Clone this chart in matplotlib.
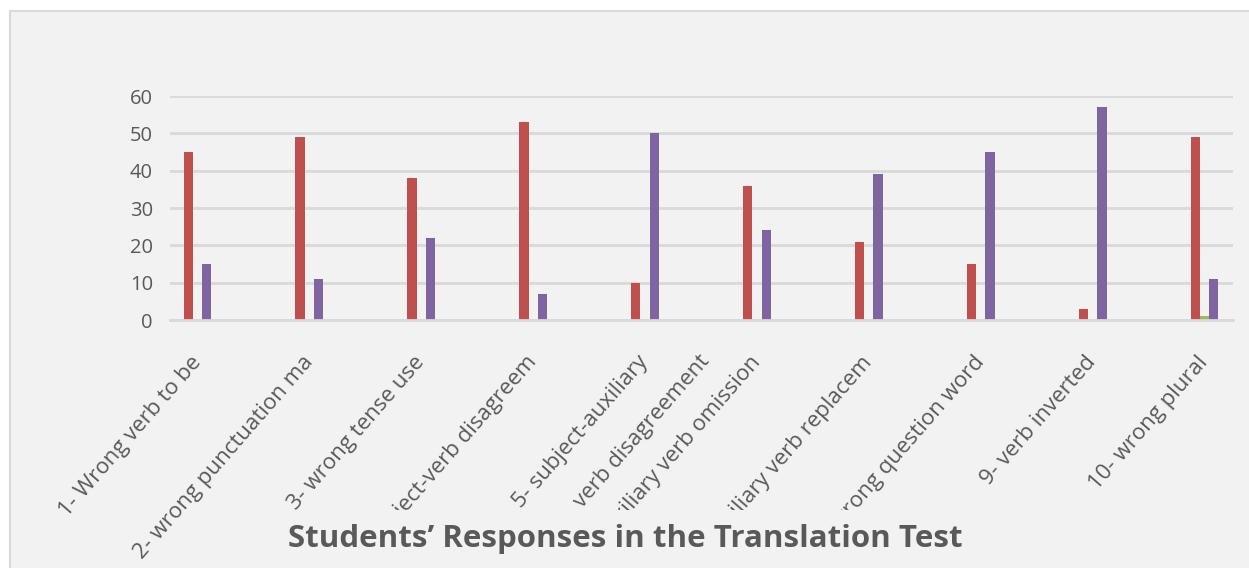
import numpy as np
import matplotlib
matplotlib.use('Agg')
import matplotlib.pyplot as plt
from matplotlib.patches import Rectangle
from matplotlib.transforms import ScaledTranslation

# Data
Categories = ['1- Wrong verb to be', '2- wrong punctuation ma', '3- wrong tense use',
              '4- subject-verb disagreem', '5- subject-auxiliary', '6- auxiliary verb omission',
              '7- auxiliary verb replacem', '8- wrong question word', '9- verb inverted',
              '10- wrong plural']
Red_Values = [45, 49, 38, 53, 10, 36, 21, 15, 3, 49]
Green_Values = [0, 0, 0, 0, 0, 0, 0, 0, 0, 1]
Purple_Values = [15, 11, 22, 7, 50, 24, 39, 45, 57, 11]
Y_Ticks = [0, 10, 20, 30, 40, 50, 60]
Title = 'Students\u2019 Responses in the Translation Test'

Bg = '#F2F2F2'
Grid = '#D9D9D9'
Text_Color = '#595959'

plt.rcParams['font.family'] = ['Open Sans', 'DejaVu Sans']

fig = plt.figure(figsize=(12.49, 5.68), dpi=100)
fig.patch.set_facecolor('white')

# chart area background with thin border (runs off right and bottom edges)
fig.add_artist(Rectangle((10 / 1249, -0.1), 1.2, 1.1 - 11 / 568, transform=fig.transFigure,
                         facecolor=Bg, edgecolor=Grid, linewidth=1.5, zorder=-1))

ax = fig.add_axes([169.5 / 1249, 1 - 320 / 568, 1063 / 1249, 224 / 568])
ax.set_facecolor('none')

X = np.arange(len(Categories))
Width = 0.083
ax.bar(X - Width, Red_Values, Width, color='#C0504D', zorder=2)
ax.bar(X, Green_Values, Width, color='#9BBB59', zorder=2)
ax.bar(X + Width, Purple_Values, Width, color='#8064A2', zorder=2)

ax.set_xlim(-0.25, 9.25)
ax.set_ylim(0, 60)
ax.set_yticks(Y_Ticks)
ax.yaxis.grid(True, color=Grid, linewidth=2)
ax.set_axisbelow(True)
for s in ['top', 'right', 'left']:
    ax.spines[s].set_visible(False)
ax.spines['bottom'].set_color(Grid)
ax.spines['bottom'].set_linewidth(2)
ax.tick_params(axis='y', length=0, colors=Text_Color, labelsize=14.5, pad=12)
ax.tick_params(axis='x', length=0, colors=Text_Color, labelsize=16, pad=28)

Angle = 49
ax.set_xticks(X)
ax.set_xticklabels(Categories, rotation=Angle, ha='right', va='center', rotation_mode='anchor')

# second line of label 5 sits to the right of the first
ax.text(4, 0, 'verb disagreement', rotation=Angle, ha='right', va='center', rotation_mode='anchor',
        fontsize=16, color=Text_Color,
        transform=ax.get_xaxis_transform() + ScaledTranslation(44 / 72, -27 / 72, fig.dpi_scale_trans))

# title box covers the lower part of the labels
fig.add_artist(Rectangle((285 / 1249, -0.1), 680 / 1249, 0.1 + 1 - 510 / 568,
                         transform=fig.transFigure, facecolor=Bg, edgecolor='none', zorder=2))
fig.text(625 / 1249, 1 - 539 / 568, Title, ha='center', va='center', fontsize=22.5,
         fontweight='bold', color=Text_Color, zorder=3)

fig.savefig('out.png', dpi=100)
